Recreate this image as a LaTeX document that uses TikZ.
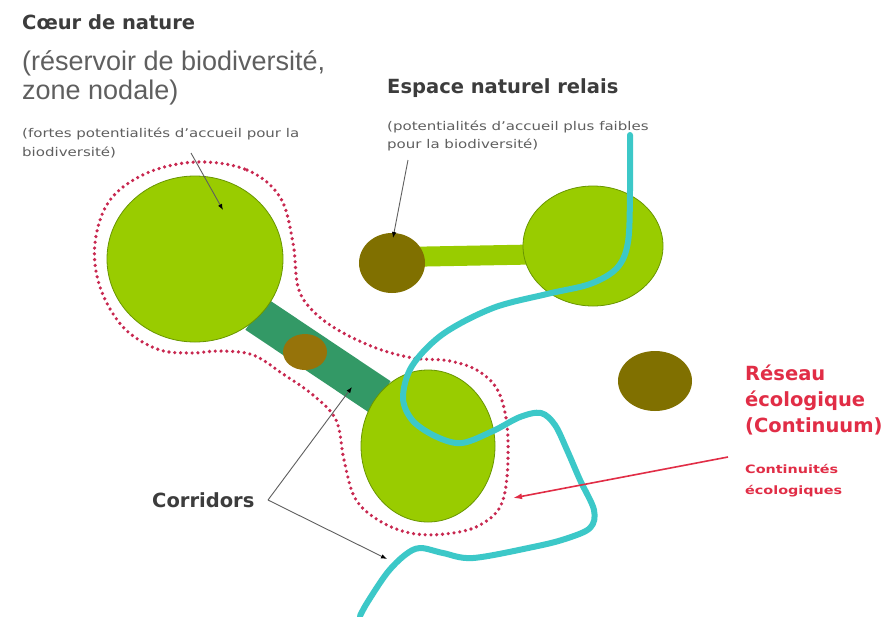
\documentclass[tikz,border=0pt]{standalone}
\usepackage{fontspec}
\setmainfont{DejaVu Sans}
\newfontfamily\widefont[FakeStretch=1.25]{DejaVu Sans}
\newfontfamily\arialfont{Liberation Sans}
\usetikzlibrary{shapes.geometric,arrows.meta}
\definecolor{vertclair}{RGB}{153,204,0}
\definecolor{vertbord}{RGB}{105,150,0}
\definecolor{olive}{RGB}{128,112,0}
\definecolor{brun}{RGB}{150,115,10}
\definecolor{corridorvert}{RGB}{51,153,102}
\definecolor{riviere}{RGB}{60,200,200}
\definecolor{rouge}{RGB}{225,45,70}
\definecolor{pointille}{RGB}{200,40,80}
\definecolor{gristexte}{RGB}{60,60,60}
\definecolor{grisclair}{RGB}{95,95,95}
\tikzset{
  reservoir/.style={ellipse, draw=vertbord, line width=0.8pt, fill=vertclair, inner sep=0pt},
  relais/.style={ellipse, fill=olive, inner sep=0pt},
  label gras/.style={anchor=base west, inner sep=0pt, text=gristexte, font=\fontsize{19.5}{24}\selectfont\bfseries},
  label grand/.style={anchor=base west, inner sep=0pt, text=grisclair, font=\arialfont\fontsize{27}{30}\selectfont},
  label petit/.style={anchor=base west, inner sep=0pt, text=grisclair, font=\widefont\fontsize{12}{14}\selectfont},
  fleche/.style={draw=grisclair, line width=0.9pt, -{Latex[length=6pt,width=4.5pt,color=black]}},
}
\begin{document}
\begin{tikzpicture}[x=1pt,y=-1pt]
  \useasboundingbox[fill=white] (0,0) rectangle (890,616);

  % corridors
  \draw[corridorvert, line width=38pt] (256,314) -- (380,397);
  \draw[vertclair, line width=20pt] (400,257) -- (560,254);

  % reservoirs et espaces relais
  \node[reservoir, minimum width=176pt, minimum height=166pt] (coeur) at (195,259) {};
  \node[reservoir, minimum width=140pt, minimum height=120pt] (coeurB) at (593,246) {};
  \node[reservoir, minimum width=134pt, minimum height=152pt] (coeurC) at (428,446) {};
  \node[relais, minimum width=66pt, minimum height=60pt] (relaisA) at (392,263) {};
  \node[relais, minimum width=74pt, minimum height=60pt] (relaisB) at (655,381) {};
  \node[ellipse, fill=brun, inner sep=0pt, minimum width=44pt, minimum height=36pt] (relaisC) at (305,352) {};

  % continuum
  \draw[pointille, line width=3.6pt, line cap=round, dash pattern=on 0pt off 5.8pt]
    plot[smooth cycle, tension=0.6] coordinates {
      (197,162) (247,170) (280,197) (293,243) (298,287) (312,310) (338,330)
      (376,348) (413,358) (450,361) (480,372) (500,395) (508,440) (503,500)
      (480,525) (445,534) (410,533) (378,520) (355,498) (344,460) (336,420)
      (313,395) (283,374) (253,355) (220,351) (190,353) (157,349) (123,327)
      (100,287) (95,243) (110,200) (147,173)};

  % cours d'eau
  \draw[riviere, line width=6pt, line cap=round, line join=round]
    plot[smooth, tension=0.55] coordinates {
      (630,135) (630,190) (628,242) (617,268) (590,284) (547,294) (493,308)
      (443,334) (412,366) (403,398) (413,421) (437,437) (462,443) (493,431)
      (520,417) (541,413) (555,425) (567,450) (580,480) (594,510) (590,528)
      (565,539) (533,547) (473,558) (443,553) (420,548) (405,555) (387,573)
      (367,603) (360,616)};

  % textes
  \node[label gras] (titreCoeur) at (22,29) {Cœur de nature};
  \node[label grand] (coeurL1) at (22,70) {(réservoir de biodiversité,};
  \node[label grand] (coeurL2) at (22,99) {zone nodale)};
  \node[label petit] (coeurP1) at (22,137) {(fortes potentialités d’accueil pour la};
  \node[label petit] (coeurP2) at (22,156) {biodiversité)};
  \node[label gras] (titreRelais) at (387,93) {Espace naturel relais};
  \node[label petit] (relaisP1) at (387,130) {(potentialités d’accueil plus faibles};
  \node[label petit] (relaisP2) at (387,148) {pour la biodiversité)};
  \node[label gras] (titreCorridors) at (152,507) {Corridors};
  \node[label gras, text=rouge] (reseauL1) at (745,380) {Réseau};
  \node[label gras, text=rouge] (reseauL2) at (745,406) {écologique};
  \node[label gras, text=rouge] (reseauL3) at (745,432) {(Continuum)};
  \node[label petit, text=rouge, font=\widefont\bfseries\fontsize{11.5}{13}\selectfont] (contL1) at (745,473) {Continuités};
  \node[label petit, text=rouge, font=\widefont\bfseries\fontsize{11.5}{13}\selectfont] (contL2) at (745,494) {écologiques};

  % fleches
  \coordinate (dCoeur) at (223,210);
  \coordinate (dRelais) at (393,238);
  \coordinate (dCorridor) at (352,387);
  \coordinate (dRiviere) at (387,559);
  \coordinate (dContinuum) at (513,498);
  \coordinate (pCorridors) at (268,500);
  \coordinate (pContinuum) at (728,457);
  \draw[fleche] (191,153) -- (dCoeur);
  \draw[fleche] (408,160) -- (dRelais);
  \draw[fleche] (pCorridors) -- (dCorridor);
  \draw[fleche] (pCorridors) -- (dRiviere);
  \draw[rouge, line width=1.6pt, -{Latex[length=9pt,width=6pt]}] (pContinuum) -- (dContinuum);
\end{tikzpicture}
\end{document}
